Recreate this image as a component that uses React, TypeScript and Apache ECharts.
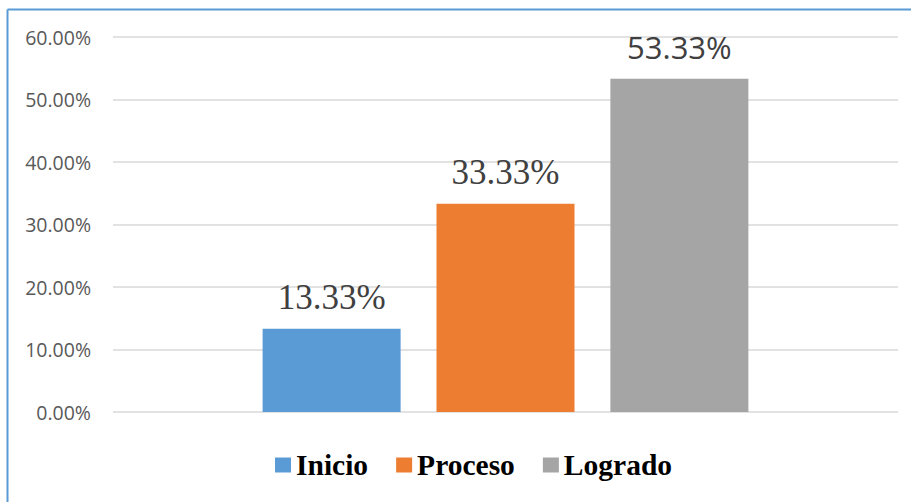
import React, { useEffect, useRef } from "react";
import * as echarts from "echarts";

const categories = ["Nivel"];
const seriesNames = ["Inicio", "Proceso", "Logrado"];
const seriesValues = [13.33, 33.33, 53.33];
const seriesColors = ["#5b9bd5", "#ed7d31", "#a5a5a5"];
const labelFonts = ["Liberation Serif", "Liberation Serif", "Open Sans"];
const labelSizes = [35, 35, 31];
const labelDistances = [14, 14, 16];
const yTicks = { min: 0, max: 60, interval: 10 };

export default function App() {
  const ref = useRef<HTMLDivElement>(null);
  useEffect(() => {
    if (!ref.current) return;
    const chart = echarts.init(ref.current, null, { renderer: "svg" });
    const series = seriesNames.map((name, i) => ({
      name,
      type: "bar",
      data: [seriesValues[i]],
      barWidth: 138,
      barGap: "26%",
      itemStyle: { color: seriesColors[i] },
      label: {
        show: true,
        position: "top",
        distance: labelDistances[i],
        formatter: (p: any) => p.value.toFixed(2) + "%",
        fontFamily: labelFonts[i],
        fontSize: labelSizes[i],
        color: "#404040",
      },
    }));
    chart.setOption({
      animation: false,
      grid: { left: 113, right: 13, top: 37, bottom: 90, containLabel: false },
      xAxis: {
        type: "category",
        data: categories,
        axisLine: { show: false },
        axisTick: { show: false },
        axisLabel: { show: false },
      },
      yAxis: {
        type: "value",
        min: yTicks.min,
        max: yTicks.max,
        interval: yTicks.interval,
        axisLine: { show: false },
        axisTick: { show: false },
        axisLabel: {
          formatter: (v: number) => v.toFixed(2) + "%",
          fontFamily: "Open Sans",
          fontSize: 19.5,
          color: "#595959",
          margin: 22,
        },
        splitLine: { lineStyle: { color: "#d9d9d9", width: 1.5 } },
      },
      legend: {
        left: 270,
        top: 445,
        itemWidth: 16,
        itemHeight: 15,
        itemGap: 28,
        icon: "rect",
        textStyle: {
          fontFamily: "Liberation Serif",
          fontWeight: "bold",
          fontSize: 29.5,
          color: "#000000",
        },
        data: seriesNames,
      },
      graphic: [
        {
          type: "line",
          shape: { x1: 7.5, y1: 9.5, x2: 7.5, y2: 502 },
          style: { stroke: "#5b9bd5", lineWidth: 2 },
        },
        {
          type: "line",
          shape: { x1: 7.5, y1: 9.5, x2: 911, y2: 9.5 },
          style: { stroke: "#5b9bd5", lineWidth: 2 },
        },
      ],
      series,
    });
    return () => chart.dispose();
  }, []);
  return (
    <div
      ref={ref}
      style={{ position: "fixed", left: 0, top: 0, width: 911, height: 502, background: "#fff" }}
    />
  );
}
